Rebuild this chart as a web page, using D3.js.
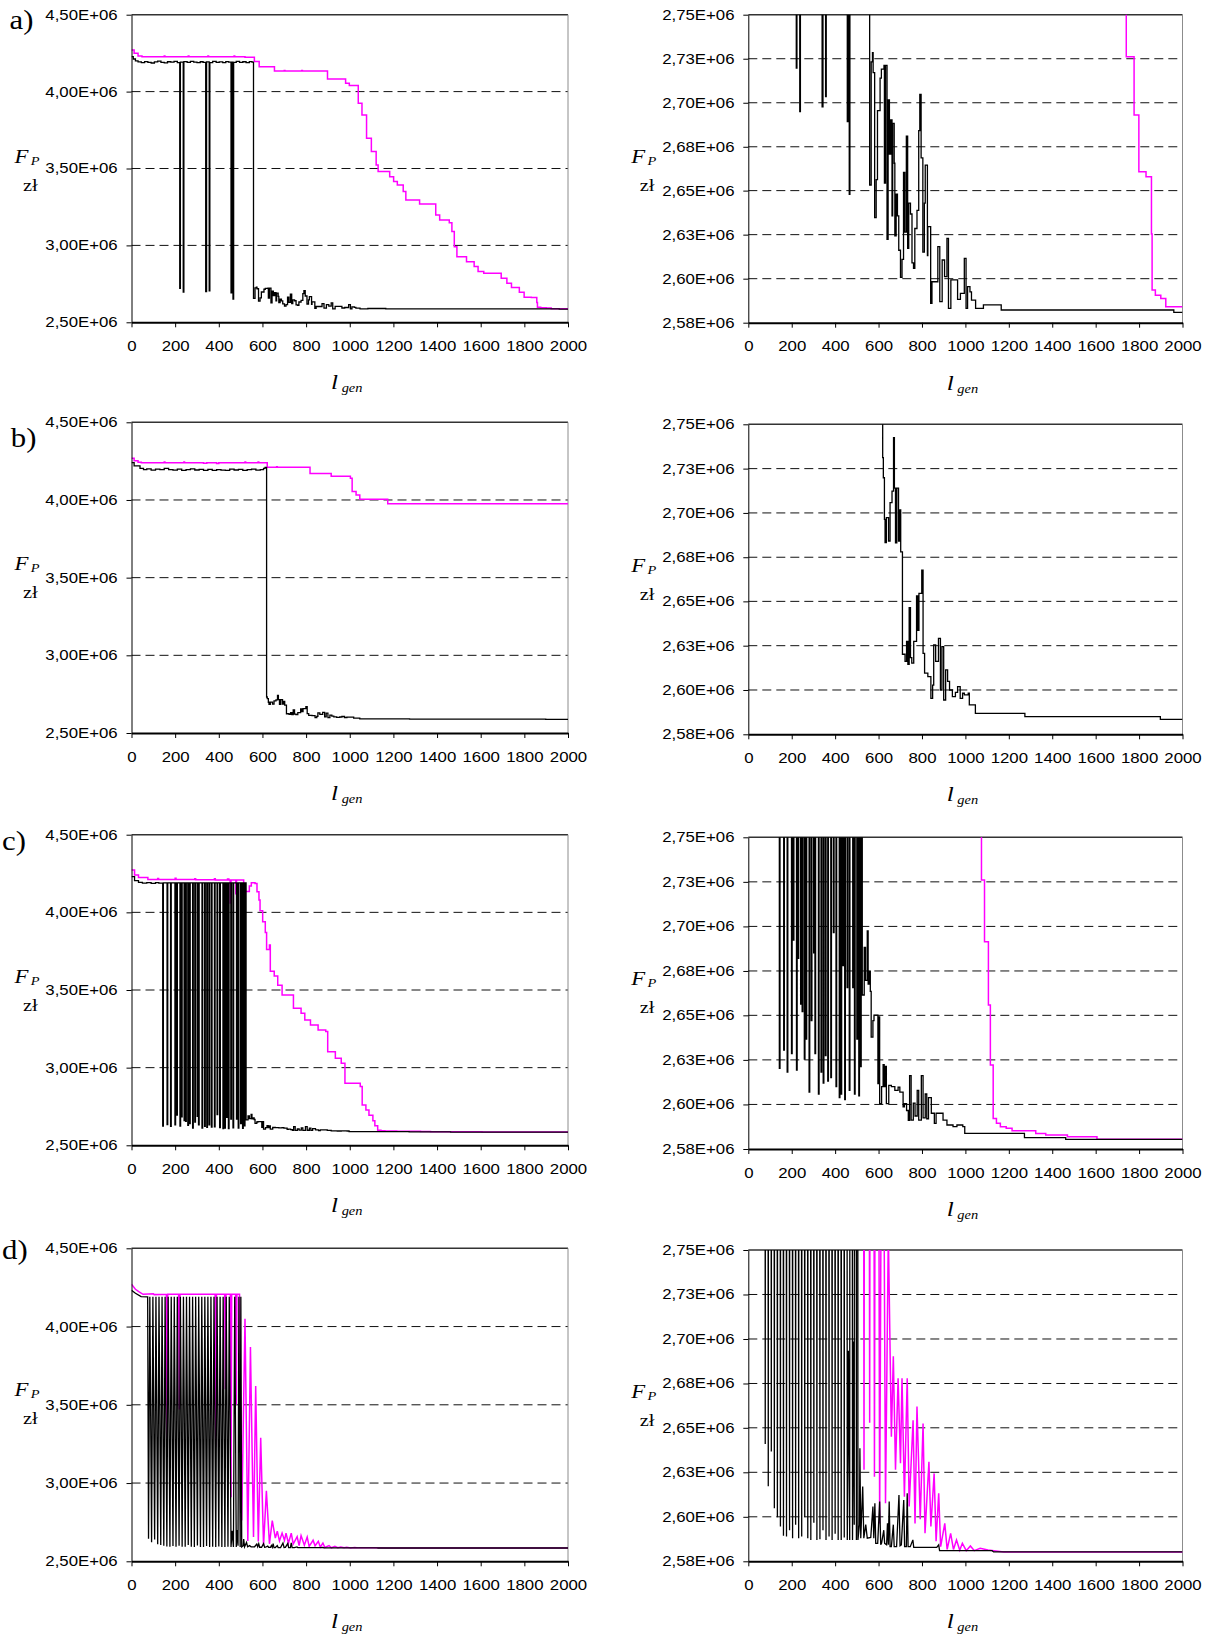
<!DOCTYPE html>
<html>
<head>
<meta charset="utf-8">
<script src="https://cdn.jsdelivr.net/npm/d3@7"></script>
<style>
  body { margin: 0; background: #fff; }
  svg { display: block; }
</style>
</head>
<body>
<svg id="chart" width="1222" height="1636"></svg>
<script>
// values in millions of zł, x = generation number
const xTicks = [0, 200, 400, 600, 800, 1000, 1200, 1400, 1600, 1800, 2000];
const fullTicks = [2.5, 3.0, 3.5, 4.0, 4.5];
const zoomTicks = [2.58, 2.6043, 2.6286, 2.6529, 2.6771, 2.7014, 2.7257, 2.75];
const panelNames = ['a)', 'b)', 'c)', 'd)'];

const aBlack = [
  [0,4.227],[8,4.212],[18,4.200],[30,4.193],[45,4.188],[60,4.195],[75,4.190],[90,4.186],[105,4.193],
  [120,4.198],[135,4.190],[150,4.187],[165,4.194],[180,4.191],[195,4.196],[210,4.189],
  [221,2.7205],[224,4.192],[237,2.6965],[240,4.195],
  [255,4.190],[270,4.197],[285,4.191],[300,4.188],[315,4.194],[328,4.190],
  [340,2.6992],[344,4.193],[356,2.7048],[359,4.189],
  [372,4.196],[388,4.190],[402,4.193],[418,4.188],[432,4.195],[445,4.191],
  [456,2.691],[459,4.192],[465,2.6508],[468,4.190],
  [480,4.197],[495,4.190],[510,4.194],[525,4.188],[540,4.195],[552,4.192],
  [559,2.656],[566,2.724],[572,2.729],[575,2.718],[582,2.638],[589,2.659],[595,2.697],[607,2.715],
  [613,2.720],[625,2.722],[627,2.657],[632,2.722],[639,2.626],[644,2.703],[650,2.673],[656,2.692],
  [662,2.639],[665,2.690],[672,2.668],[675,2.628],[681,2.651],[687,2.639],[693,2.620],[701,2.605],
  [708,2.615],[715,2.663],[721,2.630],[728,2.683],[734,2.621],[739,2.646],[747,2.640],[754,2.613],
  [761,2.610],[767,2.632],[777,2.642],[785,2.686],[790,2.706],[796,2.671],[804,2.619],[811,2.646],
  [815,2.667],[825,2.617],[827,2.633],[840,2.5907],[846,2.6026],[873,2.622],[882,2.5916],
  [893,2.6146],[904,2.6054],[915,2.6265],[922,2.5879],[933,2.6036],[964,2.5929],[977,2.5962],
  [995,2.6155],[1003,2.5879],[1010,2.5999],[1021,2.597],[1028,2.5925],[1047,2.5879],[1083,2.5898],
  [1165,2.5870],[1960,2.5857],[2000,2.5857]
];
const aMagenta = [
  [0,4.270],[12,4.249],[30,4.232],[48,4.227],[150,4.232],[153,4.227],[260,4.231],[263,4.227],
  [350,4.232],[353,4.227],[470,4.231],[473,4.227],[520,4.224],[563,4.195],[585,4.162],[655,4.134],
  [700,4.138],[703,4.134],[780,4.138],[783,4.134],[898,4.082],[981,4.054],[998,4.039],[1039,3.924],
  [1056,3.848],[1077,3.696],[1099,3.610],[1121,3.523],[1130,3.480],[1183,3.447],[1201,3.415],
  [1218,3.393],[1245,3.350],[1257,3.295],[1320,3.269],[1394,3.198],[1412,3.165],[1456,3.148],
  [1468,3.090],[1479,2.992],[1491,2.927],[1535,2.894],[1570,2.862],[1588,2.830],[1614,2.819],
  [1694,2.786],[1720,2.754],[1741,2.7268],[1777,2.6946],[1799,2.6633],[1832,2.6606],[1857,2.629],
  [1860,2.598],[1875,2.5952],[1900,2.5934],[1923,2.5888],[2000,2.5888]
];

const bBlack = [
  [0,4.240],[12,4.219],[39,4.204],[55,4.195],[70,4.200],[90,4.192],[110,4.198],[130,4.195],[150,4.203],
  [170,4.196],[190,4.192],[210,4.199],[230,4.190],[250,4.196],[270,4.200],[290,4.193],[310,4.197],
  [330,4.191],[350,4.197],[370,4.190],[390,4.196],[410,4.192],[430,4.190],[450,4.198],[470,4.193],
  [490,4.197],[510,4.190],[530,4.195],[550,4.199],[570,4.192],[590,4.196],[605,4.204],[612,4.210],
  [619,2.7317],[622,2.7207],[627,2.6979],[630,2.6851],[636,2.6988],[646,2.686],[653,2.707],
  [662,2.7134],[669,2.7427],[673,2.715],[678,2.685],[684,2.715],[692,2.686],[698,2.703],[702,2.680],
  [710,2.6239],[722,2.620],[729,2.631],[735,2.6184],[741,2.6495],[747,2.622],[753,2.619],[762,2.631],
  [775,2.6559],[781,2.637],[786,2.6573],[799,2.670],[805,2.6244],[812,2.6135],[827,2.6116],
  [841,2.5997],[849,2.607],[854,2.629],[863,2.620],[876,2.6326],[885,2.6043],[892,2.6281],
  [900,2.5988],[909,2.6153],[918,2.609],[927,2.6043],[940,2.6007],[954,2.6030],[964,2.6061],
  [976,2.5997],[987,2.6025],[995,2.6016],[1013,2.6025],[1018,2.5961],[1046,2.5915],[1274,2.5897],
  [1898,2.5882],[2000,2.5882]
];
const bMagenta = [
  [0,4.268],[12,4.253],[30,4.243],[45,4.240],[150,4.245],[153,4.240],[240,4.245],[243,4.240],
  [330,4.237],[345,4.240],[390,4.235],[400,4.240],[520,4.244],[523,4.240],[580,4.244],[583,4.240],
  [622,4.210],[665,4.214],[668,4.210],[818,4.170],[915,4.152],[1003,4.140],[1011,4.054],
  [1029,4.032],[1046,4.005],[1174,3.976],[2000,3.976]
];

const cBlack = [
  [0,4.230],[14,4.204],[32,4.193],[50,4.188],[70,4.192],[90,4.187],[110,4.191],[125,4.188],
  [143,2.624],[146,4.19],[163,2.634],[166,4.19],[179,2.622],[182,4.19],[199,2.632],[202,4.19],
  [207,2.694],[210,4.19],[222,2.623],[225,4.19],[229,2.684],[232,4.19],[241,2.659],[244,4.19],
  [248,2.655],[251,4.19],[258,2.629],[261,4.19],[266,2.640],[269,4.19],[280,2.611],[283,4.19],
  [290,2.650],[293,4.19],[301,2.687],[304,4.19],[307,2.632],[310,4.19],[323,2.610],[326,4.19],
  [335,2.622],[338,4.19],[345,2.616],[348,4.19],[355,2.631],[358,4.19],[366,2.617],[369,4.19],
  [380,2.619],[383,4.19],[392,2.698],[395,4.19],[404,2.614],[407,4.19],[419,2.608],[422,4.19],
  [427,2.610],[430,4.19],[436,2.680],[439,4.19],[444,2.607],[447,4.19],[455,2.668],[458,4.19],
  [465,2.612],[468,4.19],[481,2.668],[484,4.19],[489,2.610],[492,4.19],[500,2.640],[503,4.19],
  [509,2.609],[512,4.19],[517,2.625],[520,4.19],
  [525,2.664],[534,2.690],[540,2.672],[548,2.699],[552,2.670],[558,2.677],[562,2.666],[566,2.641],
  [574,2.650],[579,2.653],[597,2.6157],[602,2.652],[605,2.6048],[614,2.614],[621,2.626],[626,2.614],
  [631,2.625],[636,2.6048],[647,2.6147],[659,2.614],[675,2.612],[690,2.6138],[698,2.611],[713,2.603],
  [719,2.6048],[729,2.601],[737,2.5956],[743,2.620],[750,2.5958],[760,2.605],[768,2.598],[778,2.612],
  [785,2.5958],[797,2.620],[805,2.597],[815,2.610],[822,2.5965],[830,2.608],[843,2.5995],[857,2.594],
  [865,2.5995],[897,2.5958],[915,2.5931],[943,2.5922],[961,2.5931],[988,2.5922],[997,2.5885],
  [1272,2.5862],[1462,2.5853],[2000,2.5853]
];
const cMagenta = [
  [0,4.273],[14,4.240],[32,4.225],[75,4.212],[120,4.218],[124,4.212],[200,4.219],[204,4.212],
  [290,4.217],[294,4.210],[380,4.216],[384,4.208],[440,4.214],[446,4.208],[452,4.060],[456,4.208],
  [478,4.120],[481,4.208],[514,4.150],[522,4.135],[540,4.170],[549,4.190],[566,4.185],[575,4.133],
  [584,4.080],[589,4.010],[601,3.940],[613,3.870],[619,3.760],[632,3.790],[636,3.620],[654,3.590],
  [670,3.530],[690,3.468],[742,3.382],[777,3.350],[794,3.307],[820,3.275],[855,3.242],[890,3.232],
  [899,3.103],[934,3.060],[961,3.028],[978,2.900],[1048,2.878],[1057,2.760],[1074,2.7267],
  [1088,2.6931],[1106,2.6585],[1115,2.6258],[1128,2.5967],[1143,2.5940],[1161,2.5922],[1188,2.5913],
  [1215,2.5900],[1324,2.5885],[1370,2.5876],[1470,2.5867],[1606,2.5853],[2000,2.5853]
];

const dBlack = [
  [0,4.232],[18,4.213],[44,4.191],[74,4.190],
  [78,2.644],[84,4.19],[92,2.621],[98,4.19],[106,2.640],[112,4.19],[120,2.609],[126,4.19],
  [134,2.604],[140,4.19],[148,2.599],[154,4.19],[162,2.594],[168,4.19],[176,2.5935],[182,4.19],
  [190,2.597],[196,4.19],[204,2.5926],[210,4.19],[218,2.600],[224,4.19],[232,2.5926],[238,4.19],
  [246,2.5935],[252,4.19],[260,2.604],[266,4.19],[274,2.5926],[280,4.19],[288,2.5917],[294,4.19],
  [302,2.601],[308,4.19],[316,2.5917],[322,4.19],[330,2.592],[336,4.19],[344,2.597],[350,4.19],
  [358,2.5917],[364,4.19],[372,2.5935],[378,4.19],[386,2.5917],[392,4.19],[400,2.595],[406,4.19],
  [414,2.5917],[420,4.19],[428,2.5917],[434,4.19],[442,2.593],[448,4.19],[456,2.5917],[461,2.695],
  [467,2.5917],[473,4.19],[480,2.5917],[484,2.700],[488,2.600],[492,4.19],[498,2.5917],[501,4.19],
  [505,2.5917],
  [512,2.600],[514,2.6417],[518,2.5926],[527,2.6208],[532,2.5926],[541,2.600],[548,2.5926],
  [564,2.593],[574,2.6099],[578,2.5926],[583,2.6117],[587,2.5898],[596,2.5898],[605,2.6126],
  [610,2.589],[614,2.590],[624,2.597],[628,2.5898],[637,2.589],[641,2.6007],[645,2.589],[649,2.6126],
  [653,2.588],[659,2.588],[668,2.600],[672,2.588],[683,2.588],[694,2.6162],[699,2.5885],[705,2.589],
  [716,2.6135],[720,2.588],[728,2.588],[732,2.6171],[736,2.588],[746,2.588],[758,2.5917],[762,2.5876],
  [797,2.5876],[868,2.5876],[877,2.589],[881,2.5858],[1123,2.5858],[1130,2.5851],[2000,2.5851]
];
const dMagenta = [
  [0,4.270],[18,4.238],[35,4.221],[53,4.206],[100,4.210],[104,4.204],[160,4.206],[163,3.23],[166,4.206],
  [216,4.206],[219,3.47],[222,4.206],[383,4.206],[386,3.23],[389,4.206],[427,4.206],[430,3.60],
  [433,4.206],[453,4.206],[456,2.91],[459,4.206],[477,4.206],[480,3.50],[483,4.206],[495,4.206],
  [505,2.760],[520,4.050],[533,2.630],[545,3.870],[559,2.6557],[569,3.620],[581,2.6262],[592,3.290],
  [605,2.6007],[618,2.950],[632,2.6117],[645,2.760],[659,2.648],[668,2.692],[678,2.630],[690,2.680],
  [701,2.6335],[708,2.680],[719,2.6153],[732,2.680],[741,2.610],[759,2.657],[768,2.6007],[777,2.6645],
  [792,2.603],[805,2.6553],[814,2.5953],[832,2.6344],[841,2.599],[856,2.628],[865,2.591],[877,2.6171],
  [886,2.588],[905,2.6007],[916,2.5865],[932,2.5953],[945,2.5865],[959,2.5916],[974,2.586],
  [986,2.5898],[1004,2.5858],[1023,2.5884],[1041,2.5858],[1068,2.5871],[1104,2.5862],[1177,2.5851],
  [2000,2.5851]
];

const svg = d3.select('#chart');
const serif = '"Liberation Serif", "Times New Roman", serif';
const sans = '"Liberation Sans", Arial, sans-serif';
const stretch = 1.2;
const leftX = [131.5, 568];
const rightX = [748.3, 1182.5];

const rows = [
  { name: panelNames[0], black: aBlack, magenta: aMagenta, curve: d3.curveStepAfter,
    left: [14.7, 322.3], right: [14.7, 322.7], label: [9.6, 29.3] },
  { name: panelNames[1], black: bBlack, magenta: bMagenta, curve: d3.curveStepAfter,
    left: [422.3, 733], right: [424.3, 734.3], label: [10.8, 446.7] },
  { name: panelNames[2], black: cBlack, magenta: cMagenta, curve: d3.curveStepAfter,
    left: [834.7, 1145.3], right: [837.3, 1149], label: [2, 850] },
  { name: panelNames[3], black: dBlack, magenta: dMagenta, curve: d3.curveLinear,
    left: [1248.3, 1561.3], right: [1250, 1561.3], label: [2, 1259.3] }
];

const fmt = (v) => v.toFixed(2).replace('.', ',') + 'E+06';

const addText = (parent, x, y, anchor, scaleX) => {
  return parent.append('text')
    .attr('transform', `translate(${x},${y}) scale(${scaleX},1)`)
    .attr('text-anchor', anchor)
    .attr('fill', '#000');
};

const drawPanel = (row, key, xr, yr, domain, ticks) => {
  const x = d3.scaleLinear().domain([0, 2000]).range(xr);
  const y = d3.scaleLinear().domain(domain).range([yr[1], yr[0]]);
  const g = svg.append('g').attr('class', 'panel');

  svg.append('clipPath').attr('id', 'clip-' + key)
    .append('rect')
    .attr('x', xr[0]).attr('y', yr[0])
    .attr('width', xr[1] - xr[0]).attr('height', yr[1] - yr[0]);

  g.selectAll('line.grid')
    .data(ticks.slice(1, -1))
    .join('line')
    .attr('class', 'grid')
    .attr('x1', xr[0]).attr('x2', xr[1])
    .attr('y1', (d) => y(d)).attr('y2', (d) => y(d))
    .attr('stroke', '#111')
    .attr('stroke-width', 1)
    .attr('stroke-dasharray', '9,5');

  g.append('line')
    .attr('x1', xr[0]).attr('x2', xr[1])
    .attr('y1', yr[0]).attr('y2', yr[0])
    .attr('stroke', '#333').attr('stroke-width', 1.5);
  g.append('line')
    .attr('x1', xr[1]).attr('x2', xr[1])
    .attr('y1', yr[0]).attr('y2', yr[1])
    .attr('stroke', '#8c8c8c').attr('stroke-width', 1);

  const line = d3.line()
    .x((d) => x(d[0]))
    .y((d) => y(d[1]))
    .curve(row.curve);
  const plot = g.append('g').attr('clip-path', `url(#clip-${key})`);
  plot.append('path').datum(row.magenta)
    .attr('d', line).attr('fill', 'none')
    .attr('stroke', '#ff00ff').attr('stroke-width', 1.5);
  plot.append('path').datum(row.black)
    .attr('d', line).attr('fill', 'none')
    .attr('stroke', '#000').attr('stroke-width', 1.3);

  const yAxis = d3.axisLeft(y)
    .tickValues(ticks).tickFormat(fmt)
    .tickSize(5).tickSizeOuter(0).tickPadding(6.5);
  g.append('g')
    .attr('transform', `translate(${xr[0]},0)`)
    .call(yAxis)
    .call((a) => a.attr('font-family', sans).attr('font-size', 14))
    .call((a) => a.selectAll('text').attr('fill', '#000').attr('transform', `scale(${stretch},1)`));

  const xAxis = d3.axisBottom(x)
    .tickValues(xTicks).tickFormat(d3.format('d'))
    .tickSize(5).tickSizeOuter(0).tickPadding(13.6);
  g.append('g')
    .attr('transform', `translate(0,${yr[1]})`)
    .call(xAxis)
    .call((a) => a.attr('font-family', sans).attr('font-size', 14))
    .call((a) => a.select('.domain').attr('stroke-width', 2))
    .call((a) => a.selectAll('text').attr('fill', '#000').attr('transform', `scale(${stretch},1)`));

  // axis titles
  const fp = addText(g, xr[0] - 117, yr[0] + 148, 'start', stretch)
    .attr('font-family', serif).attr('font-style', 'italic');
  fp.append('tspan').attr('font-size', 19).text('F');
  fp.append('tspan').attr('font-size', 12).attr('dx', 2).attr('dy', 2).text('P');

  addText(g, xr[0] - 108.5, yr[0] + 176, 'start', stretch)
    .attr('font-family', serif).attr('font-size', 17)
    .text('zł');

  const lg = addText(g, (xr[0] + xr[1]) / 2 - 3, yr[1] + 67, 'middle', stretch)
    .attr('font-family', serif).attr('font-style', 'italic');
  lg.append('tspan').attr('font-size', 21).text('l');
  lg.append('tspan').attr('font-size', 12).attr('dx', 3).attr('dy', 3).text('gen');
};

rows.forEach((row, i) => {
  drawPanel(row, i + 'L', leftX, row.left, [2.5, 4.5], fullTicks);
  drawPanel(row, i + 'R', rightX, row.right, [2.58, 2.75], zoomTicks);
  addText(svg, row.label[0], row.label[1], 'start', 1.1)
    .attr('font-family', serif).attr('font-size', 28)
    .text(row.name);
});
</script>
</body>
</html>
